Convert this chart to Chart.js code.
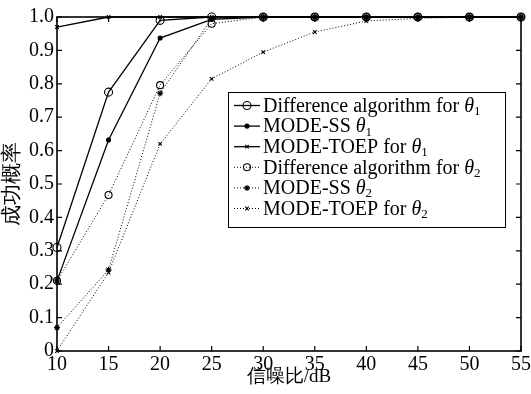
<!DOCTYPE html>
<html><head><meta charset="utf-8">
<script src="https://cdn.jsdelivr.net/npm/chart.js@4.4.0/dist/chart.umd.min.js"></script>
<style>html,body{margin:0;padding:0;background:#fff}#wrap{width:531px;height:394px;position:relative}</style>
</head><body><div id="wrap"><canvas id="c" width="531" height="394"></canvas></div>
<script>
// ---- data ----
const snrDb = [10, 15, 20, 25, 30, 35, 40, 45, 50, 55];
const diffTheta1 = [0.31, 0.775, 0.99, 1.0, 1.0, 1.0, 1.0, 1.0, 1.0, 1.0];
const ssTheta1   = [0.21, 0.632, 0.937, 0.993, 1.0, 1.0, 1.0, 1.0, 1.0, 1.0];
const toepTheta1 = [0.97, 1.0, 1.0, 1.0, 1.0, 1.0, 1.0, 1.0, 1.0, 1.0];
const diffTheta2 = [0.21, 0.467, 0.796, 0.98, 1.0, 1.0, 1.0, 1.0, 1.0, 1.0];
const ssTheta2   = [0.07, 0.243, 0.772, 0.995, 1.0, 1.0, 1.0, 1.0, 1.0, 1.0];
const toepTheta2 = [0.0, 0.235, 0.62, 0.815, 0.895, 0.955, 0.988, 0.996, 1.0, 1.0];
const seriesNames = ['Difference algorithm for ', 'MODE-SS ', 'MODE-TOEP for ', 'Difference algorithm for ', 'MODE-SS ', 'MODE-TOEP for '];
const seriesSubs  = ['1', '1', '1', '2', '2', '2'];
const xTickValues = [10, 15, 20, 25, 30, 35, 40, 45, 50, 55];
const yTickValues = [0, 0.1, 0.2, 0.3, 0.4, 0.5, 0.6, 0.7, 0.8, 0.9, 1.0];
const xTitle = '信噪比/dB';
const yTitle = '成功概率';

const SERIF = "'Liberation Serif', 'Times New Roman', serif";
const toPts = arr => arr.map((v, i) => ({x: snrDb[i], y: v}));

const styles = [
  {dash: [], width: 1.3, ps: 'circle', r: 4, fill: 'rgba(0,0,0,0)'},
  {dash: [], width: 1.3, ps: 'circle', r: 2, fill: '#000'},
  {dash: [], width: 1.3, ps: 'crossRot', r: 2.5, fill: '#000'},
  {dash: [1, 2], width: 1, ps: 'circle', r: 3.5, fill: 'rgba(0,0,0,0)'},
  {dash: [1, 2], width: 1, ps: 'star', r: 3, fill: '#000'},
  {dash: [1, 2], width: 1, ps: 'crossRot', r: 2.5, fill: '#000'}
];
const seriesData = [diffTheta1, ssTheta1, toepTheta1, diffTheta2, ssTheta2, toepTheta2];

const datasets = seriesData.map((d, i) => ({
  label: seriesNames[i] + 'θ' + seriesSubs[i],
  data: toPts(d),
  borderColor: '#000',
  borderWidth: styles[i].width,
  borderDash: styles[i].dash,
  pointStyle: styles[i].ps,
  pointRadius: styles[i].r,
  pointBackgroundColor: styles[i].fill,
  pointBorderColor: '#000',
  pointBorderWidth: 1.1,
  tension: 0,
  fill: false,
  clip: 8
}));

const framePlugin = {
  id: 'frame',
  afterDraw(chart) {
    const {ctx, chartArea: a, scales} = chart;
    ctx.save();
    ctx.strokeStyle = '#000';
    ctx.lineWidth = 1.6;
    ctx.setLineDash([]);
    ctx.strokeRect(a.left, a.top, a.right - a.left, a.bottom - a.top);
    ctx.lineWidth = 1.2;
    const tl = 5;
    ctx.beginPath();
    xTickValues.forEach(v => {
      const px = scales.x.getPixelForValue(v);
      ctx.moveTo(px, a.bottom); ctx.lineTo(px, a.bottom - tl);
      ctx.moveTo(px, a.top); ctx.lineTo(px, a.top + tl);
    });
    yTickValues.forEach(v => {
      const py = scales.y.getPixelForValue(v);
      ctx.moveTo(a.left, py); ctx.lineTo(a.left + tl, py);
      ctx.moveTo(a.right, py); ctx.lineTo(a.right - tl, py);
    });
    ctx.stroke();
    ctx.restore();
  }
};

const legendPlugin = {
  id: 'customLegend',
  afterDraw(chart) {
    const {ctx} = chart;
    const bx = 228, by = 92, bw = 277, bh = 135;
    ctx.save();
    ctx.fillStyle = '#fff';
    ctx.fillRect(bx, by, bw, bh);
    ctx.strokeStyle = '#000';
    ctx.lineWidth = 1;
    ctx.setLineDash([]);
    ctx.strokeRect(bx + 0.5, by + 0.5, bw, bh);
    const rowH = 20.6, y0 = 105.5;
    chart.data.datasets.forEach((ds, i) => {
      const y = y0 + i * rowH;
      ctx.strokeStyle = '#000';
      ctx.lineWidth = ds.borderWidth;
      ctx.setLineDash(ds.borderDash);
      ctx.beginPath();
      ctx.moveTo(234, y); ctx.lineTo(260, y);
      ctx.stroke();
      ctx.setLineDash([]);
      ctx.fillStyle = ds.pointBackgroundColor;
      ctx.lineWidth = ds.pointBorderWidth;
      Chart.helpers.drawPoint(ctx, {pointStyle: ds.pointStyle, radius: ds.pointRadius, rotation: 0, borderWidth: ds.pointBorderWidth}, 247, y);
      ctx.fillStyle = '#000';
      ctx.textBaseline = 'middle';
      ctx.textAlign = 'left';
      ctx.font = '20px ' + SERIF;
      let x = 263;
      ctx.fillText(seriesNames[i], x, y + 1);
      x += ctx.measureText(seriesNames[i]).width;
      ctx.font = 'italic 20px ' + SERIF;
      ctx.fillText('θ', x, y + 1);
      x += ctx.measureText('θ').width;
      ctx.font = '13px ' + SERIF;
      ctx.fillText(seriesSubs[i], x, y + 6);
    });
    ctx.restore();
  }
};

new Chart(document.getElementById('c'), {
  type: 'line',
  data: {datasets},
  options: {
    responsive: false,
    devicePixelRatio: 1,
    animation: false,
    layout: {padding: {top: 17, right: 10, left: 0, bottom: 0}},
    plugins: {legend: {display: false}, tooltip: {enabled: false}},
    scales: {
      x: {
        type: 'linear', min: 10, max: 55,
        afterBuildTicks: s => { s.ticks = xTickValues.map(v => ({value: v})); },
        afterFit: s => { s.height = 43; },
        grid: {display: false}, border: {display: false},
        ticks: {color: '#000', font: {family: SERIF, size: 20}, padding: -6, maxRotation: 0, autoSkip: false,
          callback: v => String(v)},
        title: {display: true, text: xTitle, color: '#000', font: {family: SERIF, size: 19, lineHeight: 1}, padding: {top: 0, bottom: 7}}
      },
      y: {
        type: 'linear', min: 0, max: 1,
        afterBuildTicks: s => { s.ticks = yTickValues.map(v => ({value: v})); },
        afterFit: s => { s.width = 57; },
        grid: {display: false}, border: {display: false},
        ticks: {color: '#000', font: {family: SERIF, size: 20}, padding: -5, autoSkip: false,
          callback: v => v === 0 ? '0' : Number(v).toFixed(1)},
        title: {display: true, text: yTitle, color: '#000', font: {family: SERIF, size: 21, lineHeight: 1}, padding: {top: 2, bottom: 0}}
      }
    }
  },
  plugins: [framePlugin, legendPlugin]
});
</script></body></html>
